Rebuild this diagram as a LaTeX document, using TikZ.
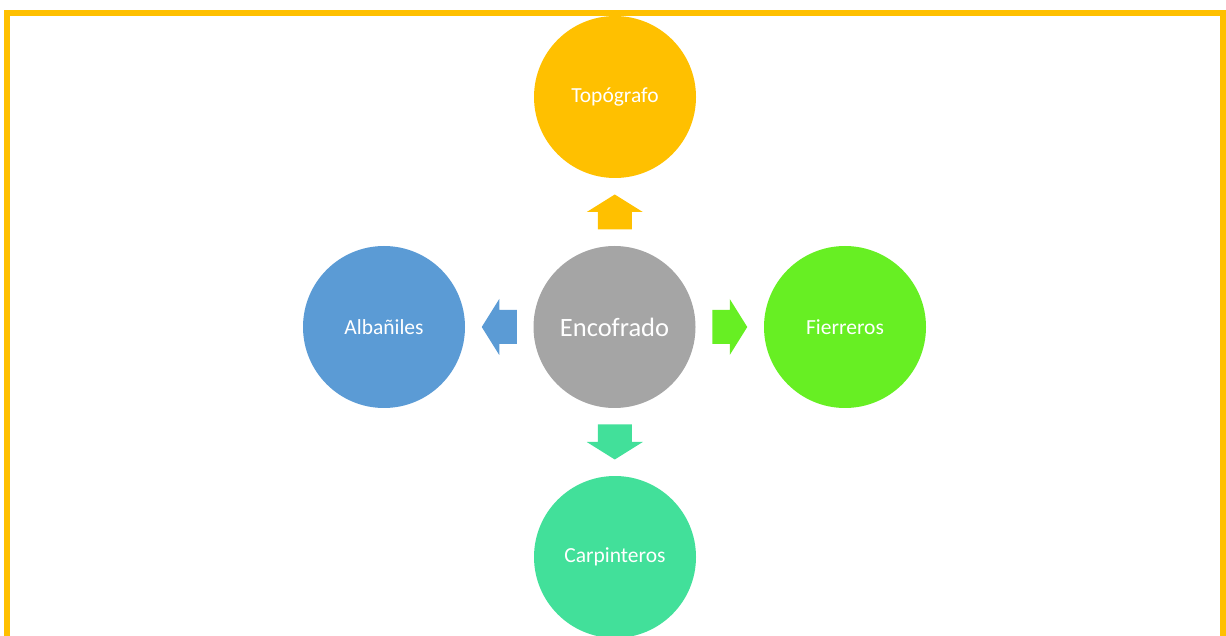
\documentclass[tikz,border=0pt]{standalone}
\usepackage{fontspec}
\setmainfont{Carlito}
\usetikzlibrary{calc}
\definecolor{gold}{HTML}{FFC000}
\definecolor{skyblue}{HTML}{5B9BD5}
\definecolor{lime}{HTML}{67EF23}
\definecolor{stone}{HTML}{A5A5A5}
\definecolor{mint}{HTML}{42E09A}
\tikzset{
  bubble/.style={circle, minimum size=162pt, inner sep=0pt, text=white, font=\fontsize{21.5}{24}\selectfont},
  hub/.style={bubble, font=\fontsize{26.5}{30}\selectfont},
  blockarrow/.pic={\fill (-17.5,-17) -- (0,-17) -- (0,-28) -- (17.5,0) -- (0,28) -- (0,17) -- (-17.5,17) -- cycle;}
}
\begin{document}
\begin{tikzpicture}[x=1pt, y=1pt]
  \useasboundingbox (0,0) rectangle (1226,635);
  \clip (0,0) rectangle (1226,635);
  % frame, open past the lower edge
  \draw[gold, line width=6pt] (7,-20) rectangle (1223,621.5);
  % centre and the four trades
  \node[hub, fill=stone] (enc) at (614.5,308) {Encofrado};
  \node[bubble, fill=gold] (top) at (615,538) {Topógrafo};
  \node[bubble, fill=skyblue] (alb) at (384,308) {Albañiles};
  \node[bubble, fill=lime] (fie) at (845,308) {Fierreros};
  \node[bubble, fill=mint] (car) at (615,78) {Carpinteros};
  % block arrows from the centre outwards
  \path ($(enc.center)!0.5!(top.center)$) pic[rotate=90, fill=gold] {blockarrow};
  \path ($(enc.center)!0.5!(alb.center)$) pic[rotate=180, fill=skyblue] {blockarrow};
  \path ($(enc.center)!0.5!(fie.center)$) pic[fill=lime] {blockarrow};
  \path ($(enc.center)!0.5!(car.center)$) pic[rotate=-90, fill=mint] {blockarrow};
\end{tikzpicture}
\end{document}
